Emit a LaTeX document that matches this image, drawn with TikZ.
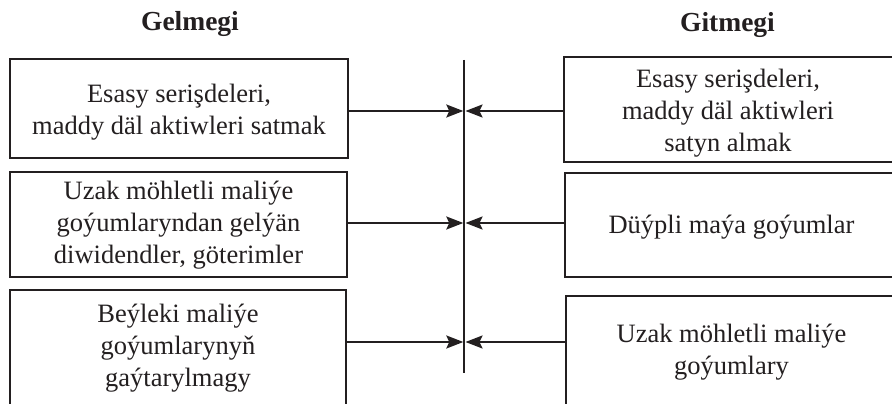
\documentclass[tikz,border=0pt]{standalone}
\usepackage{fontspec}
\setmainfont{Liberation Serif}
\usetikzlibrary{arrows.meta}
\definecolor{ink}{HTML}{231F20}
\tikzset{
  box/.style={draw=ink, line width=2.3pt, inner sep=0pt, anchor=center},
  txt/.style={align=center, inner sep=0pt, text=ink, font=\fontsize{26.5}{32}\selectfont},
  ttl/.style={inner sep=0pt, text=ink, font=\fontsize{27.5}{32}\selectfont\bfseries},
  arr/.style={draw=ink, line width=2pt, -{Stealth[length=17pt,width=13pt,inset=3pt]}},
  vline/.style={draw=ink, line width=2pt}
}
\begin{document}
\begin{tikzpicture}[x=1pt,y=-1pt]
\clip (0,0) rectangle (892,404);
\fill[white] (0,0) rectangle (892,404);
% titles
\node[ttl] (tl) at (190,24) {Gelmegi};
\node[ttl] (tr) at (727.5,25) {Gitmegi};
% left boxes
\node[box, minimum width=338pt, minimum height=99pt] (L1) at (179,108.5) {};
\node[box, minimum width=337pt, minimum height=105pt] (L2) at (178.5,224.5) {};
\node[box, minimum width=336pt, minimum height=150pt] (L3) at (178,365) {};
\node[txt] (l1t) at (179,112) {Esasy serişdeleri,\\maddy däl aktiwleri satmak};
\node[txt] (l2t) at (178.5,225) {Uzak möhletli maliýe\\goýumlaryndan gelýän\\diwidendler, göterimler};
\node[txt] (l3t) at (178,348) {Beýleki maliýe\\goýumlarynyň\\gaýtarylmagy};
% right boxes
\node[box, minimum width=340pt, minimum height=105pt] (R1) at (734,109.5) {};
\node[box, minimum width=340pt, minimum height=104pt] (R2) at (735,225) {};
\node[box, minimum width=340pt, minimum height=150pt] (R3) at (736,371) {};
\node[txt] (r1t) at (728,113) {Esasy serişdeleri,\\maddy däl aktiwleri\\satyn almak};
\node[txt] (r2t) at (731.5,227) {Düýpli maýa goýumlar};
\node[txt] (r3t) at (731.5,352) {Uzak möhletli maliýe\\goýumlary};
% vertical line
\coordinate (vt) at (464.3,60);
\coordinate (vb) at (464.3,373);
\draw[vline] (vt) -- (vb);
% arrow ends
\coordinate (a1) at (463.3,111);
\coordinate (b1) at (465.5,111);
\coordinate (a2) at (463.3,223);
\coordinate (b2) at (465.5,223);
\coordinate (a3) at (463.3,342);
\coordinate (b3) at (465.5,342);
\draw[arr] (L1.east |- a1) -- (a1);
\draw[arr] (L2.east |- a2) -- (a2);
\draw[arr] (L3.east |- a3) -- (a3);
\draw[arr] (R1.west |- b1) -- (b1);
\draw[arr] (R2.west |- b2) -- (b2);
\draw[arr] (R3.west |- b3) -- (b3);
\end{tikzpicture}
\end{document}
